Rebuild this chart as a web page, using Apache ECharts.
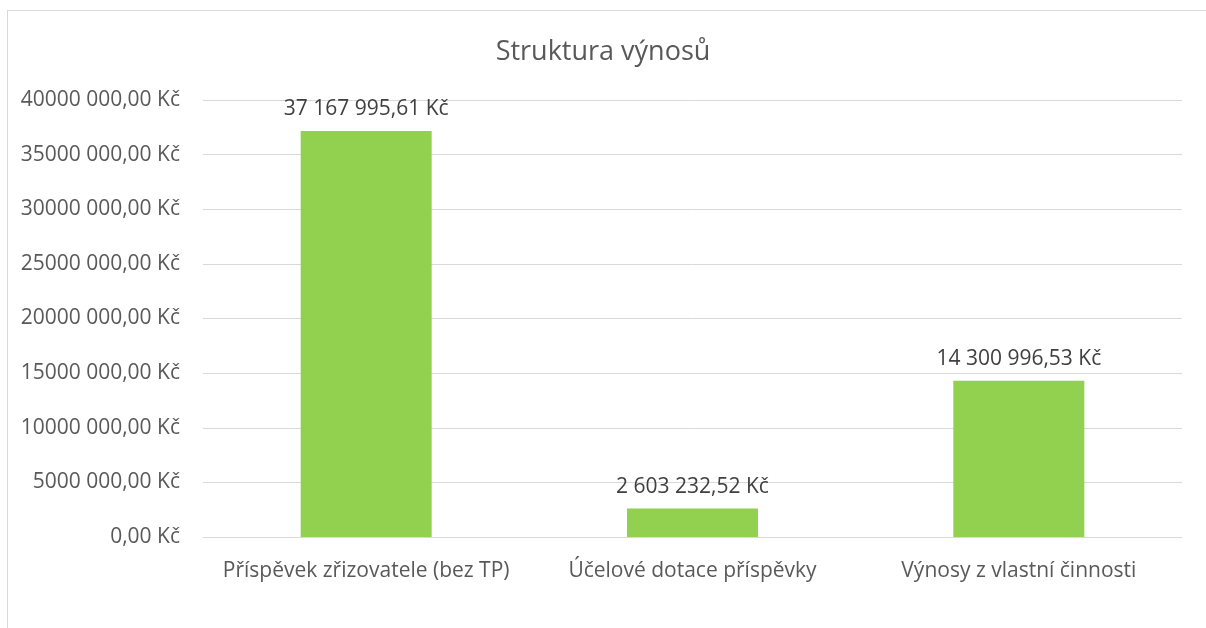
<!DOCTYPE html>
<html>
<head>
<meta charset="utf-8">
<script src="https://cdn.jsdelivr.net/npm/echarts@6/dist/echarts.min.js"></script>
<style>
    html, body { margin: 0; padding: 0; background: #fff; }
    .frame { position: absolute; left: 7px; top: 10px; width: 1220px; height: 640px; border: 1px solid #d9d9d9; box-sizing: border-box; }
    .chart { position: absolute; left: 0; top: 0; width: 1206px; height: 628px; }
</style>
</head>
<body>
<div class="frame"></div>
<div class="chart"></div>
<script>
    var categories = ['Příspěvek zřizovatele (bez TP)', 'Účelové dotace příspěvky', 'Výnosy z vlastní činnosti'];
    var values = [37167995.61, 2603232.52, 14300996.53];
    var valueLabels = ['37 167 995,61 Kč', '2 603 232,52 Kč', '14 300 996,53 Kč'];
    var yMax = 40000000;
    var yStep = 5000000;

    // osa Y: "40000 000,00 Kč" - oddeleny jen posledni trojice
    function axisFmt(v) {
        if (v === 0) return '0,00 Kč';
        var hi = Math.floor(v / 1000);
        var lo = String(v % 1000);
        while (lo.length < 3) lo = '0' + lo;
        return hi + ' ' + lo + ',00 Kč';
    }

    var myChart = echarts.init(document.querySelector('.chart'));
    var font = '"Open Sans", "Noto Sans", sans-serif';
    var option = {
        backgroundColor: 'transparent',
        animation: false,
        title: {
            text: 'Struktura výnosů',
            left: 'center',
            top: 34,
            textStyle: { color: '#595959', fontSize: 27, fontWeight: 'normal', fontFamily: font }
        },
        grid: { left: 203, right: 24, top: 100, bottom: 91, containLabel: false },
        xAxis: {
            type: 'category',
            data: categories,
            axisLine: { lineStyle: { color: '#d9d9d9' } },
            axisTick: { show: false },
            axisLabel: { color: '#595959', fontSize: 21, fontFamily: font, margin: 24, interval: 0 }
        },
        yAxis: {
            type: 'value',
            min: 0,
            max: yMax,
            interval: yStep,
            axisLine: { show: false },
            axisTick: { show: false },
            splitLine: { lineStyle: { color: '#d9d9d9', width: 1 } },
            axisLabel: { color: '#595959', fontSize: 21, fontFamily: font, margin: 23, formatter: axisFmt }
        },
        series: [{
            type: 'bar',
            data: values,
            barWidth: 131,
            itemStyle: { color: '#92d050' },
            label: {
                show: true,
                position: 'top',
                distance: 11,
                color: '#404040',
                fontSize: 21,
                fontFamily: font,
                formatter: function (p) { return valueLabels[p.dataIndex]; }
            }
        }]
    };
    myChart.setOption(option);
</script>
</body>
</html>
